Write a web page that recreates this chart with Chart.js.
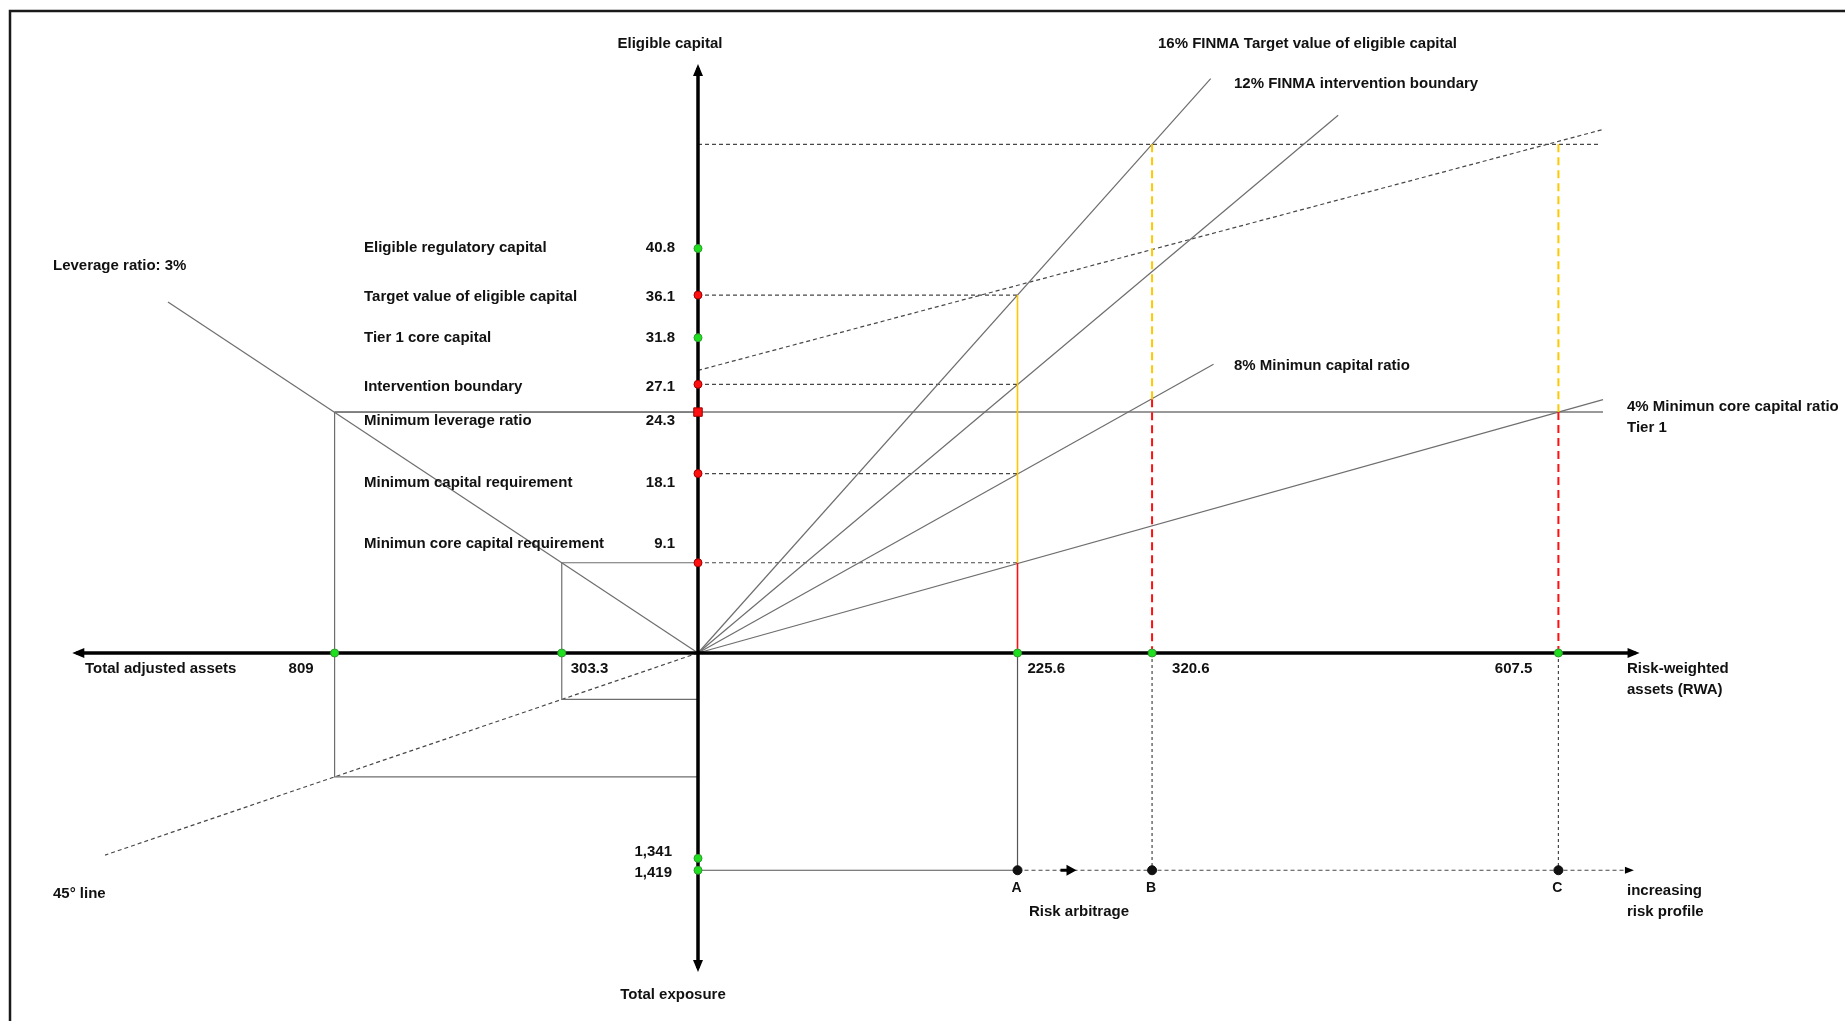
<!DOCTYPE html>
<html>
<head>
<meta charset="utf-8">
<title>Eligible capital, RWA and leverage ratio</title>
<script src="https://cdn.jsdelivr.net/npm/chart.js@4.4.1/dist/chart.umd.min.js"></script>
<style>
  html, body { margin: 0; padding: 0; background: #fff; overflow: hidden; }
  #wrap { position: relative; width: 1845px; height: 1021px; }
</style>
</head>
<body>
<div id="wrap"><canvas id="capitalChart"></canvas></div>
<script>
// ---- values ----
// eligible capital axis (up)
const capitalLabels = ["Eligible regulatory capital", "Target value of eligible capital", "Tier 1 core capital",
    "Intervention boundary", "Minimum leverage ratio", "Minimum capital requirement", "Minimun core capital requirement"];
const capitalValues = [40.8, 36.1, 31.8, 27.1, 24.3, 18.1, 9.1];
const requirementLevels = [36.1, 27.1, 18.1, 9.1]; // dashed back to point A
const leverageMinimum = 24.3;

// risk-weighted assets axis (right)
const rwaNames = ["A", "B", "C"];
const rwaValues = [225.6, 320.6, 607.5];
const rwaTopCapital = [36.1, 51.3, 51.3];
const rwaRedBelow = [9.1, 25.6, 24.3];

// capital ratio lines
const ratioLabels = ["16% FINMA Target value of eligible capital", "12% FINMA intervention boundary",
    "8% Minimun capital ratio", "4% Minimun core capital ratio"];
const ratioValues = [0.16, 0.12, 0.08, 0.04];
const ratioLineEnds = [362, 452, 364, 639];

// leverage side (total adjusted assets, left) and total exposure (down)
const leverageRatio = 0.03;
const leverageLineEnd = 1180;
const assetValues = [809, 303.3];
const assetCapital = [24.3, 9.1];
const exposureValues = [1341, 1419];
const diagonalEnd = 1320;

// dashed target path and upper level
const targetPathRwa = [0, 639];
const targetPathCapital = [28.5, 52.8];
const upperLevel = 51.3;
const upperLevelEnd = 637;
const leverageLineRwaEnd = 639;
const riskPathEnd = 658;
const arbitrageArrowAt = 263;
const axisEnds = { rwa: 662, assets: 1384, capital: 59.0, exposure: 2057 };

// ---- layout of the four half-axes ----
const W = 1845, H = 1021;
const origin = { x: 698, y: 653 };
const pxPerUnit = { rwa: 1.4163, assets: 0.4492, capital: 9.915, exposure: 0.1531 };

const GREY = "#6e6e6e", DASHGREY = "#474747", YELLOW = "#ffc800", RED = "#ff1010";
const GREEN = "#1fe01f", GREENEDGE = "#2f9a2f", REDEDGE = "#9e0000";
const FONT = 'bold 15px "Liberation Sans", Arial, sans-serif';

function line(xAxisID, yAxisID, points, extra) {
    return Object.assign({
        xAxisID: xAxisID, yAxisID: yAxisID, data: points, showLine: true, fill: false,
        borderColor: GREY, borderWidth: 1.2, pointRadius: 0, order: 5
    }, extra || {});
}
const dashed = { borderColor: DASHGREY, borderDash: [4, 3], borderWidth: 1.2 };

function dots(xAxisID, yAxisID, points, fill, edge, extra) {
    return Object.assign({
        xAxisID: xAxisID, yAxisID: yAxisID, data: points, showLine: false,
        pointRadius: 4, pointBackgroundColor: fill, pointBorderColor: edge, pointBorderWidth: 1, order: 0
    }, extra || {});
}

const datasets = [];

// ratio lines from the origin
ratioValues.forEach((r, i) => {
    datasets.push(line("xR", "yU", [{ x: 0, y: 0 }, { x: ratioLineEnds[i], y: r * ratioLineEnds[i] }]));
});
// requirement levels dashed over to A
requirementLevels.forEach(v => {
    datasets.push(line("xR", "yU", [{ x: 0, y: v }, { x: rwaValues[0], y: v }], dashed));
});
datasets.push(line("xR", "yU", [{ x: 0, y: upperLevel }, { x: upperLevelEnd, y: upperLevel }], dashed));
datasets.push(line("xR", "yU", targetPathRwa.map((x, i) => ({ x: x, y: targetPathCapital[i] })), dashed));

// minimum leverage level, both sides
datasets.push(line("xR", "yU", [{ x: 0, y: leverageMinimum }, { x: leverageLineRwaEnd, y: leverageMinimum }], { borderWidth: 1.5, borderColor: "#777" }));
datasets.push(line("xL", "yU", [{ x: assetValues[0], y: leverageMinimum }, { x: 0, y: leverageMinimum }], { borderWidth: 1.5, borderColor: "#777" }));

// leverage ratio 3% line
datasets.push(line("xL", "yU", [{ x: 0, y: 0 }, { x: leverageLineEnd, y: leverageRatio * leverageLineEnd }]));

// boxes linking assets, capital and exposure
assetValues.forEach((a, i) => {
    datasets.push(line("xL", "yU", [{ x: a, y: assetCapital[i] }, { x: 0, y: assetCapital[i] }]));
    datasets.push(line("xL", "yU", [{ x: a, y: assetCapital[i] }, { x: a, y: 0 }]));
    datasets.push(line("xL", "yD", [{ x: a, y: 0 }, { x: a, y: a }, { x: 0, y: a }]));
});

// 45 degree line
datasets.push(line("xL", "yD", [{ x: 0, y: 0 }, { x: diagonalEnd, y: diagonalEnd }], dashed));

// risk profile path at total exposure
const pathLevel = exposureValues[1];
datasets.push(line("xR", "yD", [{ x: 0, y: pathLevel }, { x: rwaValues[0], y: pathLevel }], { borderColor: "#555" }));
datasets.push(line("xR", "yD", [{ x: rwaValues[0], y: pathLevel }, { x: riskPathEnd, y: pathLevel }], dashed));

// verticals at A, B, C
rwaValues.forEach((x, i) => {
    const solid = i === 0;
    const dash = solid ? [] : [8, 5];
    datasets.push(line("xR", "yD", [{ x: x, y: 0 }, { x: x, y: pathLevel }],
        solid ? { borderColor: "#555" } : { borderColor: DASHGREY, borderDash: [3, 3] }));
    datasets.push(line("xR", "yU", [{ x: x, y: rwaTopCapital[i] }, { x: x, y: rwaRedBelow[i] }],
        { borderColor: YELLOW, borderWidth: solid ? 1.6 : 2, borderDash: dash, order: 3 }));
    datasets.push(line("xR", "yU", [{ x: x, y: rwaRedBelow[i] }, { x: x, y: 0 }],
        { borderColor: RED, borderWidth: solid ? 1.6 : 2, borderDash: dash, order: 3 }));
});

// main axes
const axisStyle = { borderColor: "#000", borderWidth: 3.5, order: 2 };
datasets.push(line("xR", "yU", [{ x: 0, y: 0 }, { x: axisEnds.rwa, y: 0 }], axisStyle));
datasets.push(line("xL", "yU", [{ x: 0, y: 0 }, { x: axisEnds.assets, y: 0 }], axisStyle));
datasets.push(line("xR", "yU", [{ x: 0, y: 0 }, { x: 0, y: axisEnds.capital }], axisStyle));
datasets.push(line("xR", "yD", [{ x: 0, y: 0 }, { x: 0, y: axisEnds.exposure }], axisStyle));

// markers
const capIsRed = capitalValues.map(v => requirementLevels.includes(v) || v === leverageMinimum);
datasets.push(dots("xR", "yU", capitalValues.map(v => ({ x: 0, y: v })),
    capIsRed.map(r => r ? RED : GREEN), capIsRed.map(r => r ? REDEDGE : GREENEDGE),
    {
        pointStyle: capitalValues.map(v => v === leverageMinimum ? "rect" : "circle"),
        pointRadius: capitalValues.map(v => v === leverageMinimum ? 6 : 4)
    }));
datasets.push(dots("xR", "yU", rwaValues.map(x => ({ x: x, y: 0 })), GREEN, GREENEDGE));
datasets.push(dots("xL", "yU", assetValues.map(x => ({ x: x, y: 0 })), GREEN, GREENEDGE));
datasets.push(dots("xR", "yD", exposureValues.map(v => ({ x: 0, y: v })), GREEN, GREENEDGE));
datasets.push(dots("xR", "yD", rwaValues.map(x => ({ x: x, y: pathLevel })), "#111", "#111", { pointRadius: 4.5 }));

// ---- arrows, frame and texts ----
function arrowHead(ctx, x, y, dir, len, half) {
    const d = { right: [1, 0], left: [-1, 0], up: [0, -1], down: [0, 1] }[dir];
    const tx = x + d[0] * 4, ty = y + d[1] * 4;
    const bx = tx - d[0] * len, by = ty - d[1] * len;
    ctx.beginPath();
    ctx.moveTo(tx, ty);
    ctx.lineTo(bx - d[1] * half, by - d[0] * half);
    ctx.lineTo(bx + d[1] * half, by + d[0] * half);
    ctx.closePath();
    ctx.fill();
}

const diagramDecor = {
    id: "diagramDecor",
    beforeDraw(chart) {
        const ctx = chart.ctx;
        ctx.save();
        ctx.fillStyle = "#fff";
        ctx.fillRect(0, 0, chart.width, chart.height);
        ctx.strokeStyle = "#1a1a1a";
        ctx.lineWidth = 2.5;
        ctx.strokeRect(10, 11, chart.width + 20, chart.height + 20);
        ctx.restore();
    },
    afterDatasetsDraw(chart) {
        const ctx = chart.ctx;
        const s = chart.scales;
        const X = (id, v) => s[id].getPixelForValue(v);
        const ax = X("xR", 0), ay = X("yU", 0);

        ctx.save();
        ctx.fillStyle = "#000";
        arrowHead(ctx, X("xR", axisEnds.rwa), ay, "right", 12, 5);
        arrowHead(ctx, X("xL", axisEnds.assets), ay, "left", 12, 5);
        arrowHead(ctx, ax, X("yU", axisEnds.capital), "up", 12, 5);
        arrowHead(ctx, ax, X("yD", axisEnds.exposure), "down", 12, 5);
        const py = X("yD", pathLevel);
        arrowHead(ctx, X("xR", riskPathEnd), py, "right", 9, 3.5);
        // risk arbitrage arrow between A and B
        const mx = X("xR", arbitrageArrowAt);
        ctx.fillRect(mx - 10, py - 1.5, 8, 3);
        arrowHead(ctx, mx + 2, py, "right", 10, 5.5);

        ctx.font = FONT;
        ctx.fillStyle = "#111";
        ctx.textBaseline = "middle";
        const text = (t, x, y, align) => { ctx.textAlign = align || "left"; ctx.fillText(t, x, y); };

        // capital axis labels
        const capOffsets = [-1, 2, 0, 3, 9, 9, -19];
        capitalValues.forEach((v, i) => {
            const y = X("yU", v) + capOffsets[i];
            text(capitalLabels[i], ax - 334, y, "left");
            text(String(v), ax - 23, y, "right");
        });
        text("Eligible capital", ax - 28, 44, "center");
        text("Total exposure", ax - 25, 995, "center");
        text("Leverage ratio: 3%", 53, 266, "left");
        text("45\u00b0 line", 53, 894, "left");

        // horizontal axis labels
        const ly = ay + 16;
        text("Total adjusted assets", 85, ly, "left");
        text(String(assetValues[0]), X("xL", assetValues[0]) - 21, ly, "right");
        text(String(assetValues[1]), X("xL", assetValues[1]) + 9, ly, "left");
        text(String(rwaValues[0]), X("xR", rwaValues[0]) + 10, ly, "left");
        text(String(rwaValues[1]), X("xR", rwaValues[1]) + 20, ly, "left");
        text(String(rwaValues[2]), X("xR", rwaValues[2]) - 26, ly, "right");
        text("Risk-weighted", 1627, ly, "left");
        text("assets (RWA)", 1627, ly + 21, "left");

        // exposure labels
        text(exposureValues[0].toLocaleString("en-US"), ax - 26, X("yD", exposureValues[0]) - 6, "right");
        text(exposureValues[1].toLocaleString("en-US"), ax - 26, X("yD", exposureValues[1]) + 3, "right");

        // ratio line labels
        text(ratioLabels[0], 1158, 44, "left");
        text(ratioLabels[1], 1234, 84, "left");
        text(ratioLabels[2], 1234, 366, "left");
        text(ratioLabels[3], 1627, 407, "left");
        text("Tier 1", 1627, 428, "left");

        // risk profile labels
        ctx.font = 'bold 14px "Liberation Sans", Arial, sans-serif';
        rwaNames.forEach((n, i) => text(n, X("xR", rwaValues[i]) - 1, py + 18, "center"));
        ctx.font = FONT;
        text("Risk arbitrage", 1029, py + 42, "left");
        text("increasing", 1627, py + 21, "left");
        text("risk profile", 1627, py + 42, "left");
        ctx.restore();
    }
};

document.addEventListener("DOMContentLoaded", () => {
    const ctx = document.getElementById("capitalChart").getContext("2d");
    new Chart(ctx, {
        type: "scatter",
        data: { datasets: datasets },
        options: {
            responsive: true,
            maintainAspectRatio: false,
            animation: false,
            events: [],
            layout: { padding: 0, autoPadding: false },
            plugins: { legend: { display: false }, tooltip: { enabled: false } },
            scales: {
                xR: { type: "linear", display: false, min: -origin.x / pxPerUnit.rwa, max: (W - origin.x) / pxPerUnit.rwa },
                xL: { type: "linear", display: false, reverse: true, min: -(W - origin.x) / pxPerUnit.assets, max: origin.x / pxPerUnit.assets },
                yU: { type: "linear", display: false, min: -(H - origin.y) / pxPerUnit.capital, max: origin.y / pxPerUnit.capital },
                yD: { type: "linear", display: false, reverse: true, min: -origin.y / pxPerUnit.exposure, max: (H - origin.y) / pxPerUnit.exposure }
            }
        },
        plugins: [diagramDecor]
    });
});
</script>
</body>
</html>
